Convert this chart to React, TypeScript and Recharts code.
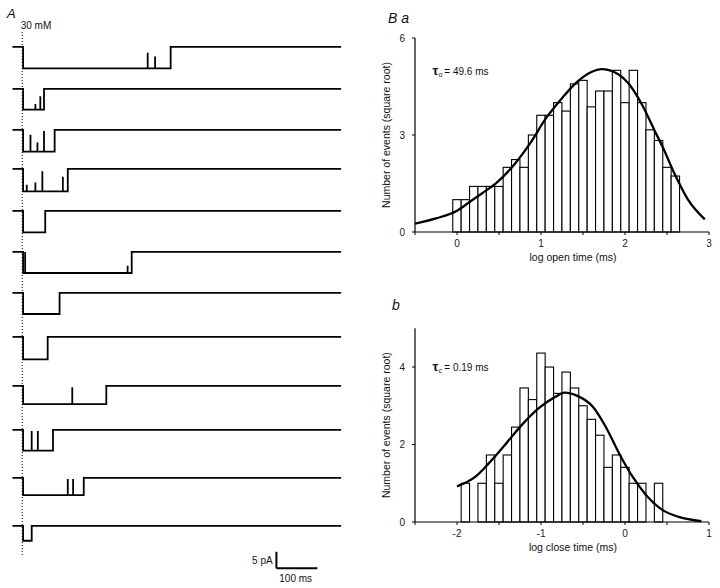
import React from "react";
import {
  Bar,
  ComposedChart,
  Line,
  LineChart,
  ReferenceLine,
  XAxis,
  YAxis,
} from "recharts";

// A: single-channel sweeps after the jump into 30 mM (times in ms, currents in pA)
const SWEEP_START_MS = -24;
const SWEEP_END_MS = 778;
const OPEN_AT_MS = 2;
const CLOSE_AT_MS = [362, 53, 79, 111, 56, 267, 91, 62, 205, 75, 150, 23];
const UNITARY_PA = [6.5, 6.3, 6.6, 6.8, 6.5, 6.4, 6.4, 6.8, 5.5, 6.3, 5.2, 4.5];
// brief closings inside each opening: [time, current reached]
const GAPS: [number, number][][] = [
  [[306, -1.8], [324, -2.9]],
  [[32, -4.6], [44, -2.2]],
  [[20, -1.5], [37, -3.8], [53, -0.3]],
  [[11, -4.8], [32, -4.1], [49, -0.7], [99, -2.4]],
  [],
  [[7, 0], [257, -4.2]],
  [],
  [],
  [[122, -0.4]],
  [[23, -0.3], [38, -0.3]],
  [[111, -0.3], [124, -0.3]],
  [],
];
const SCALE_MS = 100;
const SCALE_PA = 5;

// Ba: open times, sqrt(count) per log bin
const OPEN_BIN = [
  0, 0.1, 0.2, 0.3, 0.4, 0.5, 0.6, 0.7, 0.8, 0.9, 1.0, 1.1, 1.2, 1.3, 1.4,
  1.5, 1.6, 1.7, 1.8, 1.9, 2.0, 2.1, 2.2, 2.3, 2.4, 2.5, 2.6,
];
const OPEN_SQRT_N = [
  1.0, 1.0, 1.41, 1.41, 1.41, 1.41, 2.0, 2.24, 2.0, 3.0, 3.61, 3.61, 4.0, 3.74,
  4.58, 4.69, 3.87, 4.36, 4.36, 5.0, 4.0, 5.0, 4.0, 3.16, 2.83, 2.0, 1.73,
];
const OPEN_FIT_X = [
  -0.5, -0.25, 0, 0.15, 0.3, 0.47, 0.67, 0.87, 1.06, 1.26, 1.42, 1.6, 1.72,
  1.92, 2.04, 2.2, 2.35, 2.45, 2.59, 2.75, 2.95,
];
const OPEN_FIT_Y = [
  0.26, 0.42, 0.66, 0.93, 1.2, 1.52, 2.05, 2.74, 3.52, 4.17, 4.62, 4.95, 5.04,
  4.88, 4.6, 3.95, 3.15, 2.62, 1.8, 1.0, 0.39,
];
const OPEN_TICKS = [-0.5, 0, 0.5, 1, 1.5, 2, 2.5, 3];

// b: closed times
const CLOSE_BIN = [
  -1.9, -1.8, -1.7, -1.6, -1.5, -1.4, -1.3, -1.2, -1.1, -1.0, -0.9, -0.8, -0.7,
  -0.6, -0.5, -0.4, -0.3, -0.2, -0.1, 0, 0.1, 0.2, 0.3, 0.4,
];
const CLOSE_SQRT_N = [
  1.0, 0, 1.0, 1.73, 1.0, 1.73, 2.45, 3.46, 3.16, 4.36, 4.0, 3.32, 3.87, 3.46,
  3.0, 2.65, 2.24, 1.41, 1.73, 1.41, 1.0, 1.0, 0, 1.0,
];
const CLOSE_FIT_X = [
  -2.0, -1.78, -1.62, -1.43, -1.23, -1.03, -0.83, -0.72, -0.56, -0.38, -0.23,
  -0.07, 0.09, 0.25, 0.44, 0.64, 0.91,
];
const CLOSE_FIT_Y = [
  0.92, 1.17, 1.52, 1.99, 2.5, 2.93, 3.23, 3.34, 3.25, 2.97, 2.46, 1.77, 1.17,
  0.7, 0.32, 0.13, 0.02,
];
const CLOSE_TICKS = [-2.5, -2, -1.5, -1, -0.5, 0, 0.5, 1];

const FONT = '"Liberation Sans", Arial, Helvetica, sans-serif';
const INK = "#111";

// layout of panel A
const PX_PER_PA = 3.3;
const X_DOMAIN_MS: [number, number] = [-25, 780];
const TRACE_LEFT = 12.45;
const TRACE_W = 330;
const TRACE_DOMAIN: [number, number] = [-9, 3];
const TRACE_H = (TRACE_DOMAIN[1] - TRACE_DOMAIN[0]) * PX_PER_PA;
const TRACE_BASE_Y = [46.7, 89.3, 130, 169.3, 210.7, 252.3, 293.3, 336.7, 386, 430, 477.7, 526];

// bin width 0.1 log units on an 84 px/unit axis
const BAR_W = 8.4;

function sweep(k: number) {
  const a = -UNITARY_PA[k];
  const pts = [
    { t: SWEEP_START_MS, i: 0 },
    { t: OPEN_AT_MS, i: 0 },
    { t: OPEN_AT_MS, i: a },
  ];
  for (const [t, lvl] of GAPS[k]) {
    pts.push({ t, i: a }, { t, i: lvl }, { t, i: a });
  }
  pts.push(
    { t: CLOSE_AT_MS[k], i: a },
    { t: CLOSE_AT_MS[k], i: 0 },
    { t: SWEEP_END_MS, i: 0 },
  );
  return pts;
}

function Sweep({ k }: { k: number }) {
  return (
    <div
      style={{
        position: "absolute",
        left: TRACE_LEFT,
        top: TRACE_BASE_Y[k] - TRACE_DOMAIN[1] * PX_PER_PA,
      }}
    >
      <LineChart
        width={TRACE_W}
        height={TRACE_H}
        data={sweep(k)}
        margin={{ top: 0, right: 0, bottom: 0, left: 0 }}
      >
        <XAxis type="number" dataKey="t" domain={X_DOMAIN_MS} hide allowDataOverflow />
        <YAxis type="number" domain={TRACE_DOMAIN} hide allowDataOverflow />
        <Line
          dataKey="i"
          type="linear"
          stroke="#000"
          strokeWidth={1.8}
          dot={false}
          isAnimationActive={false}
        />
      </LineChart>
    </div>
  );
}

// jump marker + calibration bar, on the same ms / pA scales as the sweeps
function PanelAFrame() {
  const h = 588;
  const pa = (px: number) => -px / PX_PER_PA;
  const barY = pa(568.3);
  return (
    <div style={{ position: "absolute", left: TRACE_LEFT, top: 0 }}>
      <LineChart
        width={TRACE_W}
        height={h}
        data={[]}
        margin={{ top: 0, right: 0, bottom: 0, left: 0 }}
      >
        <XAxis type="number" dataKey="t" domain={X_DOMAIN_MS} hide allowDataOverflow />
        <YAxis type="number" domain={[-h / PX_PER_PA, 0]} hide allowDataOverflow />
        <ReferenceLine
          segment={[
            { x: 0, y: pa(32) },
            { x: 0, y: pa(555) },
          ]}
          stroke="#000"
          strokeWidth={1}
          strokeDasharray="1 2"
        />
        <ReferenceLine
          segment={[
            { x: 620, y: barY + SCALE_PA },
            { x: 620, y: barY },
          ]}
          stroke="#000"
          strokeWidth={2}
        />
        <ReferenceLine
          segment={[
            { x: 620, y: barY },
            { x: 620 + SCALE_MS, y: barY },
          ]}
          stroke="#000"
          strokeWidth={2}
        />
      </LineChart>
    </div>
  );
}

// open bar of fixed bin width, centred on the bin value
function HistBar(p: any) {
  if (!p.height || p.height <= 0) return <g />;
  const cx = p.x + p.width / 2;
  return (
    <rect
      x={cx - BAR_W / 2}
      y={p.y}
      width={BAR_W}
      height={p.height}
      fill="#fff"
      stroke="#000"
      strokeWidth={1.1}
    />
  );
}

type HistProps = {
  top: number;
  plotTop: number;
  bins: number[];
  counts: number[];
  fitX: number[];
  fitY: number[];
  xDomain: [number, number];
  xTicks: number[];
  yMax: number;
  yTicks: number[];
  xLabel: string;
};

function Histogram({
  top,
  plotTop,
  bins,
  counts,
  fitX,
  fitY,
  xDomain,
  xTicks,
  yMax,
  yTicks,
  xLabel,
}: HistProps) {
  const bars = bins.map((x, j) => ({ x, n: counts[j] }));
  const fit = fitX.map((x, j) => ({ x, y: fitY[j] }));
  const tick = { fontSize: 10, fill: "#222", fontFamily: FONT };
  return (
    <div style={{ position: "absolute", left: 360, top }}>
      <ComposedChart
        width={360}
        height={290}
        data={bars}
        margin={{ top: plotTop, right: 11, bottom: 28, left: 21 }}
      >
        <XAxis
          type="number"
          dataKey="x"
          domain={xDomain}
          ticks={xTicks}
          allowDataOverflow
          interval={0}
          height={30}
          tickFormatter={(v: number) => (Number.isInteger(v) ? String(v) : "")}
          axisLine={{ stroke: "#000", strokeWidth: 1.2 }}
          tickLine={{ stroke: "#000" }}
          tickSize={3}
          tickMargin={5}
          tick={tick}
          label={{
            value: xLabel,
            position: "insideBottom",
            offset: 1,
            dx: 11,
            style: { fontSize: 10.5, fill: INK, fontFamily: FONT },
          }}
        />
        <YAxis
          type="number"
          domain={[0, yMax]}
          ticks={yTicks}
          interval={0}
          width={34}
          axisLine={{ stroke: "#000", strokeWidth: 1.2 }}
          tickLine={{ stroke: "#000" }}
          tickSize={3}
          tickMargin={7}
          tick={tick}
          label={{
            value: "Number of events (square root)",
            angle: -90,
            position: "insideLeft",
            offset: 5,
            style: { textAnchor: "middle", fontSize: 10.5, fill: INK, fontFamily: FONT },
          }}
        />
        <Bar
          dataKey="n"
          barSize={BAR_W}
          shape={HistBar}
          isAnimationActive={false}
        />
        <Line
          data={fit}
          dataKey="y"
          type="monotone"
          stroke="#000"
          strokeWidth={2.3}
          dot={false}
          isAnimationActive={false}
        />
      </ComposedChart>
    </div>
  );
}

function Texts() {
  const t = { fontFamily: FONT, fill: INK };
  return (
    <svg
      width={720}
      height={588}
      style={{ position: "absolute", left: 0, top: 0, pointerEvents: "none" }}
    >
      <text x={7} y={18} fontSize={13} fontStyle="italic" {...t}>A</text>
      <text x={20.7} y={28.5} fontSize={10} {...t}>30 mM</text>
      <text x={272.7} y={563.5} fontSize={10} textAnchor="end" {...t}>5 pA</text>
      <text x={279.3} y={582} fontSize={10} {...t}>100 ms</text>

      <text x={388} y={23} fontSize={14} fontStyle="italic" {...t}>B a</text>
      <text x={432.5} y={75} fontSize={13} fontWeight="bold" {...t}>τ</text>
      <text x={438.5} y={77} fontSize={7} {...t}>o</text>
      <text x={444.3} y={75} fontSize={10} {...t}>= 49.6 ms</text>

      <text x={392} y={310} fontSize={14} fontStyle="italic" {...t}>b</text>
      <text x={432.5} y={371} fontSize={13} fontWeight="bold" {...t}>τ</text>
      <text x={438.5} y={373} fontSize={7} {...t}>c</text>
      <text x={444.3} y={371} fontSize={10} {...t}>= 0.19 ms</text>
    </svg>
  );
}

export default function App() {
  return (
    <div
      style={{
        position: "absolute",
        left: 0,
        top: 0,
        width: 720,
        height: 588,
        background: "#fff",
        fontFamily: FONT,
        overflow: "hidden",
      }}
    >
      <PanelAFrame />
      {CLOSE_AT_MS.map((_, k) => (
        <Sweep key={k} k={k} />
      ))}
      <Histogram
        top={0}
        plotTop={38}
        bins={OPEN_BIN}
        counts={OPEN_SQRT_N}
        fitX={OPEN_FIT_X}
        fitY={OPEN_FIT_Y}
        xDomain={[-0.5, 3]}
        xTicks={OPEN_TICKS}
        yMax={6}
        yTicks={[0, 3, 6]}
        xLabel="log open time (ms)"
      />
      <Histogram
        top={290}
        plotTop={38.3}
        bins={CLOSE_BIN}
        counts={CLOSE_SQRT_N}
        fitX={CLOSE_FIT_X}
        fitY={CLOSE_FIT_Y}
        xDomain={[-2.5, 1]}
        xTicks={CLOSE_TICKS}
        yMax={5}
        yTicks={[0, 2, 4]}
        xLabel="log close time (ms)"
      />
      <Texts />
    </div>
  );
}
